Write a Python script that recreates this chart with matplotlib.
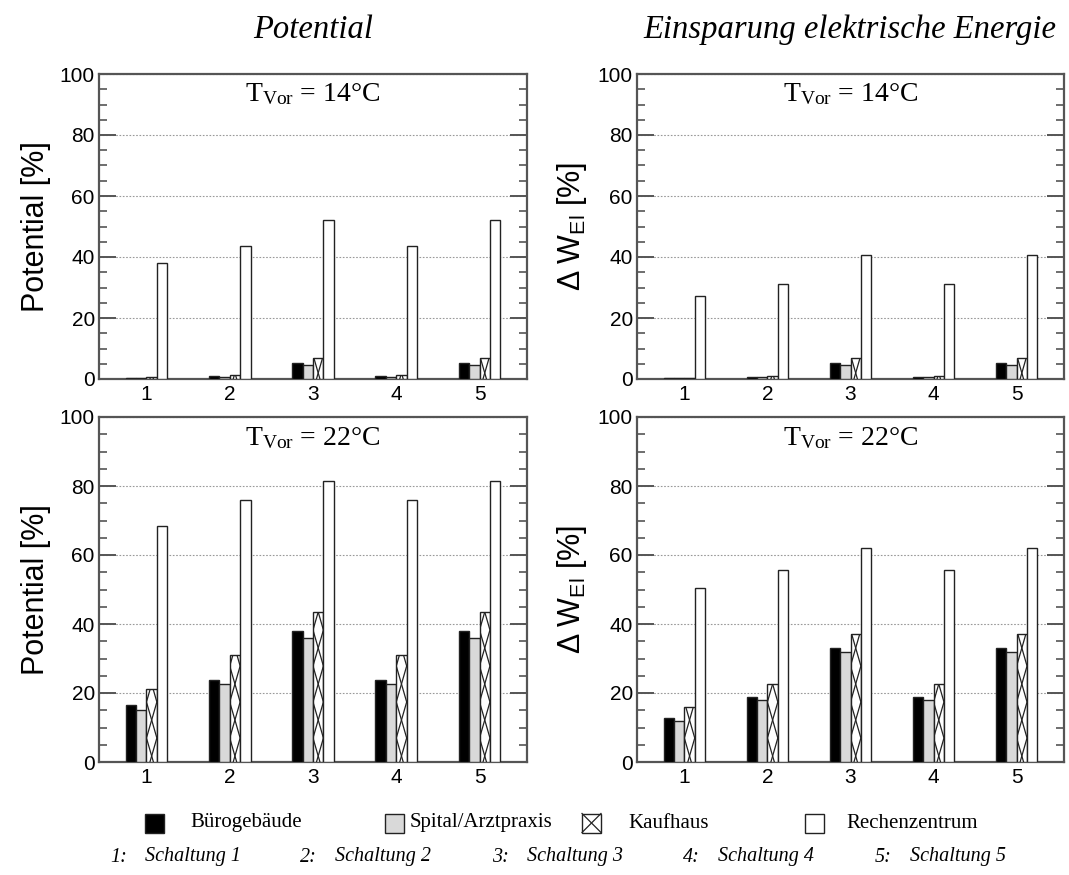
import numpy as np
import matplotlib
matplotlib.use("Agg")
import matplotlib.pyplot as plt
from matplotlib.patches import Rectangle
from matplotlib.lines import Line2D

plt.rcParams["font.family"] = "Liberation Sans"
plt.rcParams["mathtext.fontset"] = "custom"
plt.rcParams["mathtext.rm"] = "Liberation Serif"
plt.rcParams["mathtext.sf"] = "Liberation Sans"
plt.rcParams["mathtext.it"] = "Liberation Serif:italic"

# Schaltungen 1..5
schaltung = [1, 2, 3, 4, 5]
gebaeude = ["Bürogebäude", "Spital/Arztpraxis", "Kaufhaus", "Rechenzentrum"]

# Potential [%], T_Vor = 14 °C
pot14_buero = [0.3, 0.9, 5.2, 0.9, 5.2]
pot14_spital = [0.3, 0.7, 4.6, 0.7, 4.6]
pot14_kauf = [0.5, 1.2, 6.9, 1.2, 6.9]
pot14_rz = [38.0, 43.5, 52.2, 43.5, 52.2]

# Potential [%], T_Vor = 22 °C
pot22_buero = [16.4, 23.9, 38.0, 23.9, 38.0]
pot22_spital = [15.0, 22.5, 36.0, 22.5, 36.0]
pot22_kauf = [21.3, 30.9, 43.5, 30.9, 43.5]
pot22_rz = [68.5, 75.8, 81.5, 75.8, 81.5]

# Einsparung elektrische Energie [%], T_Vor = 14 °C
wel14_buero = [0.2, 0.6, 5.2, 0.6, 5.2]
wel14_spital = [0.2, 0.5, 4.6, 0.5, 4.6]
wel14_kauf = [0.3, 1.0, 6.8, 1.0, 6.8]
wel14_rz = [27.1, 31.0, 40.8, 31.0, 40.8]

# Einsparung elektrische Energie [%], T_Vor = 22 °C
wel22_buero = [12.8, 18.7, 33.0, 18.7, 33.0]
wel22_spital = [11.8, 17.9, 31.9, 17.9, 31.9]
wel22_kauf = [15.9, 22.7, 37.2, 22.7, 37.2]
wel22_rz = [50.3, 55.6, 62.0, 55.6, 62.0]

panels = [
    ("14", "Potential [%]", [pot14_buero, pot14_spital, pot14_kauf, pot14_rz]),
    ("14", r"$\mathsf{\Delta\ W_{El}}$ [%]", [wel14_buero, wel14_spital, wel14_kauf, wel14_rz]),
    ("22", "Potential [%]", [pot22_buero, pot22_spital, pot22_kauf, pot22_rz]),
    ("22", r"$\mathsf{\Delta\ W_{El}}$ [%]", [wel22_buero, wel22_spital, wel22_kauf, wel22_rz]),
]

W, H = 1069, 875
fig = plt.figure(figsize=(W / 100, H / 100), dpi=100)

# axes boxes in pixels: left, top, width, height
boxes = [
    (99, 74, 428, 305), (637, 74, 427, 305),
    (99, 417, 428, 345), (637, 417, 427, 345),
]

fills = ["black", "#d9d9d9", "white", "white"]
bw = 0.125
offsets = [-1.5 * bw, -0.5 * bw, 0.5 * bw, 1.5 * bw]
edge = "#222222"
spine_c = "#555555"


def zigzag(ax, rect, x0, w, h, step):
    # two mirrored zigzag lines make the X hatching, clipped to the bar
    ys = np.arange(-step / 3, h + 2 * step, step)
    xa = np.where(np.arange(len(ys)) % 2 == 0, x0, x0 + w)
    xb = np.where(np.arange(len(ys)) % 2 == 0, x0 + w, x0)
    for xs in (xa, xb):
        ln, = ax.plot(xs, ys, color=edge, lw=0.9, zorder=3.5)
        ln.set_clip_path(rect)


for (temp, ylab, series), (l, t, w, h) in zip(panels, boxes):
    ax = fig.add_axes([l / W, 1 - (t + h) / H, w / W, h / H])
    x = np.array(schaltung, dtype=float)
    step = 36 / (h / 100.0)
    for k, vals in enumerate(series):
        bars = ax.bar(x + offsets[k], vals, width=bw, color=fills[k],
                      edgecolor=edge, linewidth=1.0, zorder=3)
        if k == 2:
            for r, v in zip(bars, vals):
                zigzag(ax, r, r.get_x(), r.get_width(), v, step)
    ax.set_xlim(0.43, 5.57)
    ax.set_ylim(0, 100)
    ax.set_xticks(schaltung)
    ax.set_yticks(np.arange(0, 101, 20))
    ax.set_yticks(np.arange(0, 101, 5), minor=True)
    ax.tick_params(axis="x", length=0, labelsize=15, pad=4)
    ax.tick_params(axis="y", which="major", direction="in", length=12,
                   width=1.4, color=spine_c, left=True, right=True,
                   labelsize=15, pad=3)
    ax.tick_params(axis="y", which="minor", direction="in", length=6,
                   width=1.2, color=spine_c, left=True, right=True)
    ax.yaxis.grid(True, which="major", linestyle=(0, (1.5, 1.5)),
                  color="#999999", linewidth=0.8, zorder=0)
    ax.set_axisbelow(True)
    for s in ax.spines.values():
        s.set_color(spine_c)
        s.set_linewidth(1.6)
    ax.set_ylabel(ylab, fontsize=22, labelpad=6)
    ax.text(0.5, 0.975, r"T$_{\mathrm{Vor}}$ = " + temp + "°C",
            transform=ax.transAxes, ha="center", va="top",
            family="Liberation Serif", fontsize=20)

# column titles
fig.text((99 + 214) / W, 1 - 30 / H, "Potential", ha="center", va="center",
         family="Liberation Serif", style="italic", fontsize=23.5)
fig.text((637 + 213) / W, 1 - 30 / H, "Einsparung elektrische Energie",
         ha="center", va="center", family="Liberation Serif",
         style="italic", fontsize=23.5)

# legend row for the building types
leg_x = [145, 385, 582, 805]
txt_x = [190, 410, 628, 846]
row1 = 823
sq = 19
for k, name in enumerate(gebaeude):
    rx, ry = leg_x[k] / W, 1 - (row1 + sq / 2) / H
    rect = Rectangle((rx, ry), sq / W, sq / H, transform=fig.transFigure,
                     facecolor=fills[k], edgecolor=edge, linewidth=1.0)
    fig.add_artist(rect)
    if k == 2:
        for a, b in [((0, 0), (1, 1)), ((1, 0), (0, 1))]:
            fig.add_artist(Line2D([rx + a[0] * sq / W, rx + b[0] * sq / W],
                                  [ry + a[1] * sq / H, ry + b[1] * sq / H],
                                  transform=fig.transFigure, color=edge, lw=0.9))
    fig.text(txt_x[k] / W, 1 - row1 / H, name, ha="left", va="center",
             family="Liberation Serif", fontsize=15)

# legend row for the circuit numbers
num_x = [110, 300, 492, 683, 875]
row2 = 857
for k, s in enumerate(schaltung):
    fig.text(num_x[k] / W, 1 - row2 / H, f"{s}:", ha="left", va="center",
             family="Liberation Serif", style="italic", fontsize=14.5)
    fig.text((num_x[k] + 35) / W, 1 - row2 / H, f"Schaltung {s}", ha="left",
             va="center", family="Liberation Serif", style="italic", fontsize=14.5)

fig.savefig("out.png", dpi=100)
